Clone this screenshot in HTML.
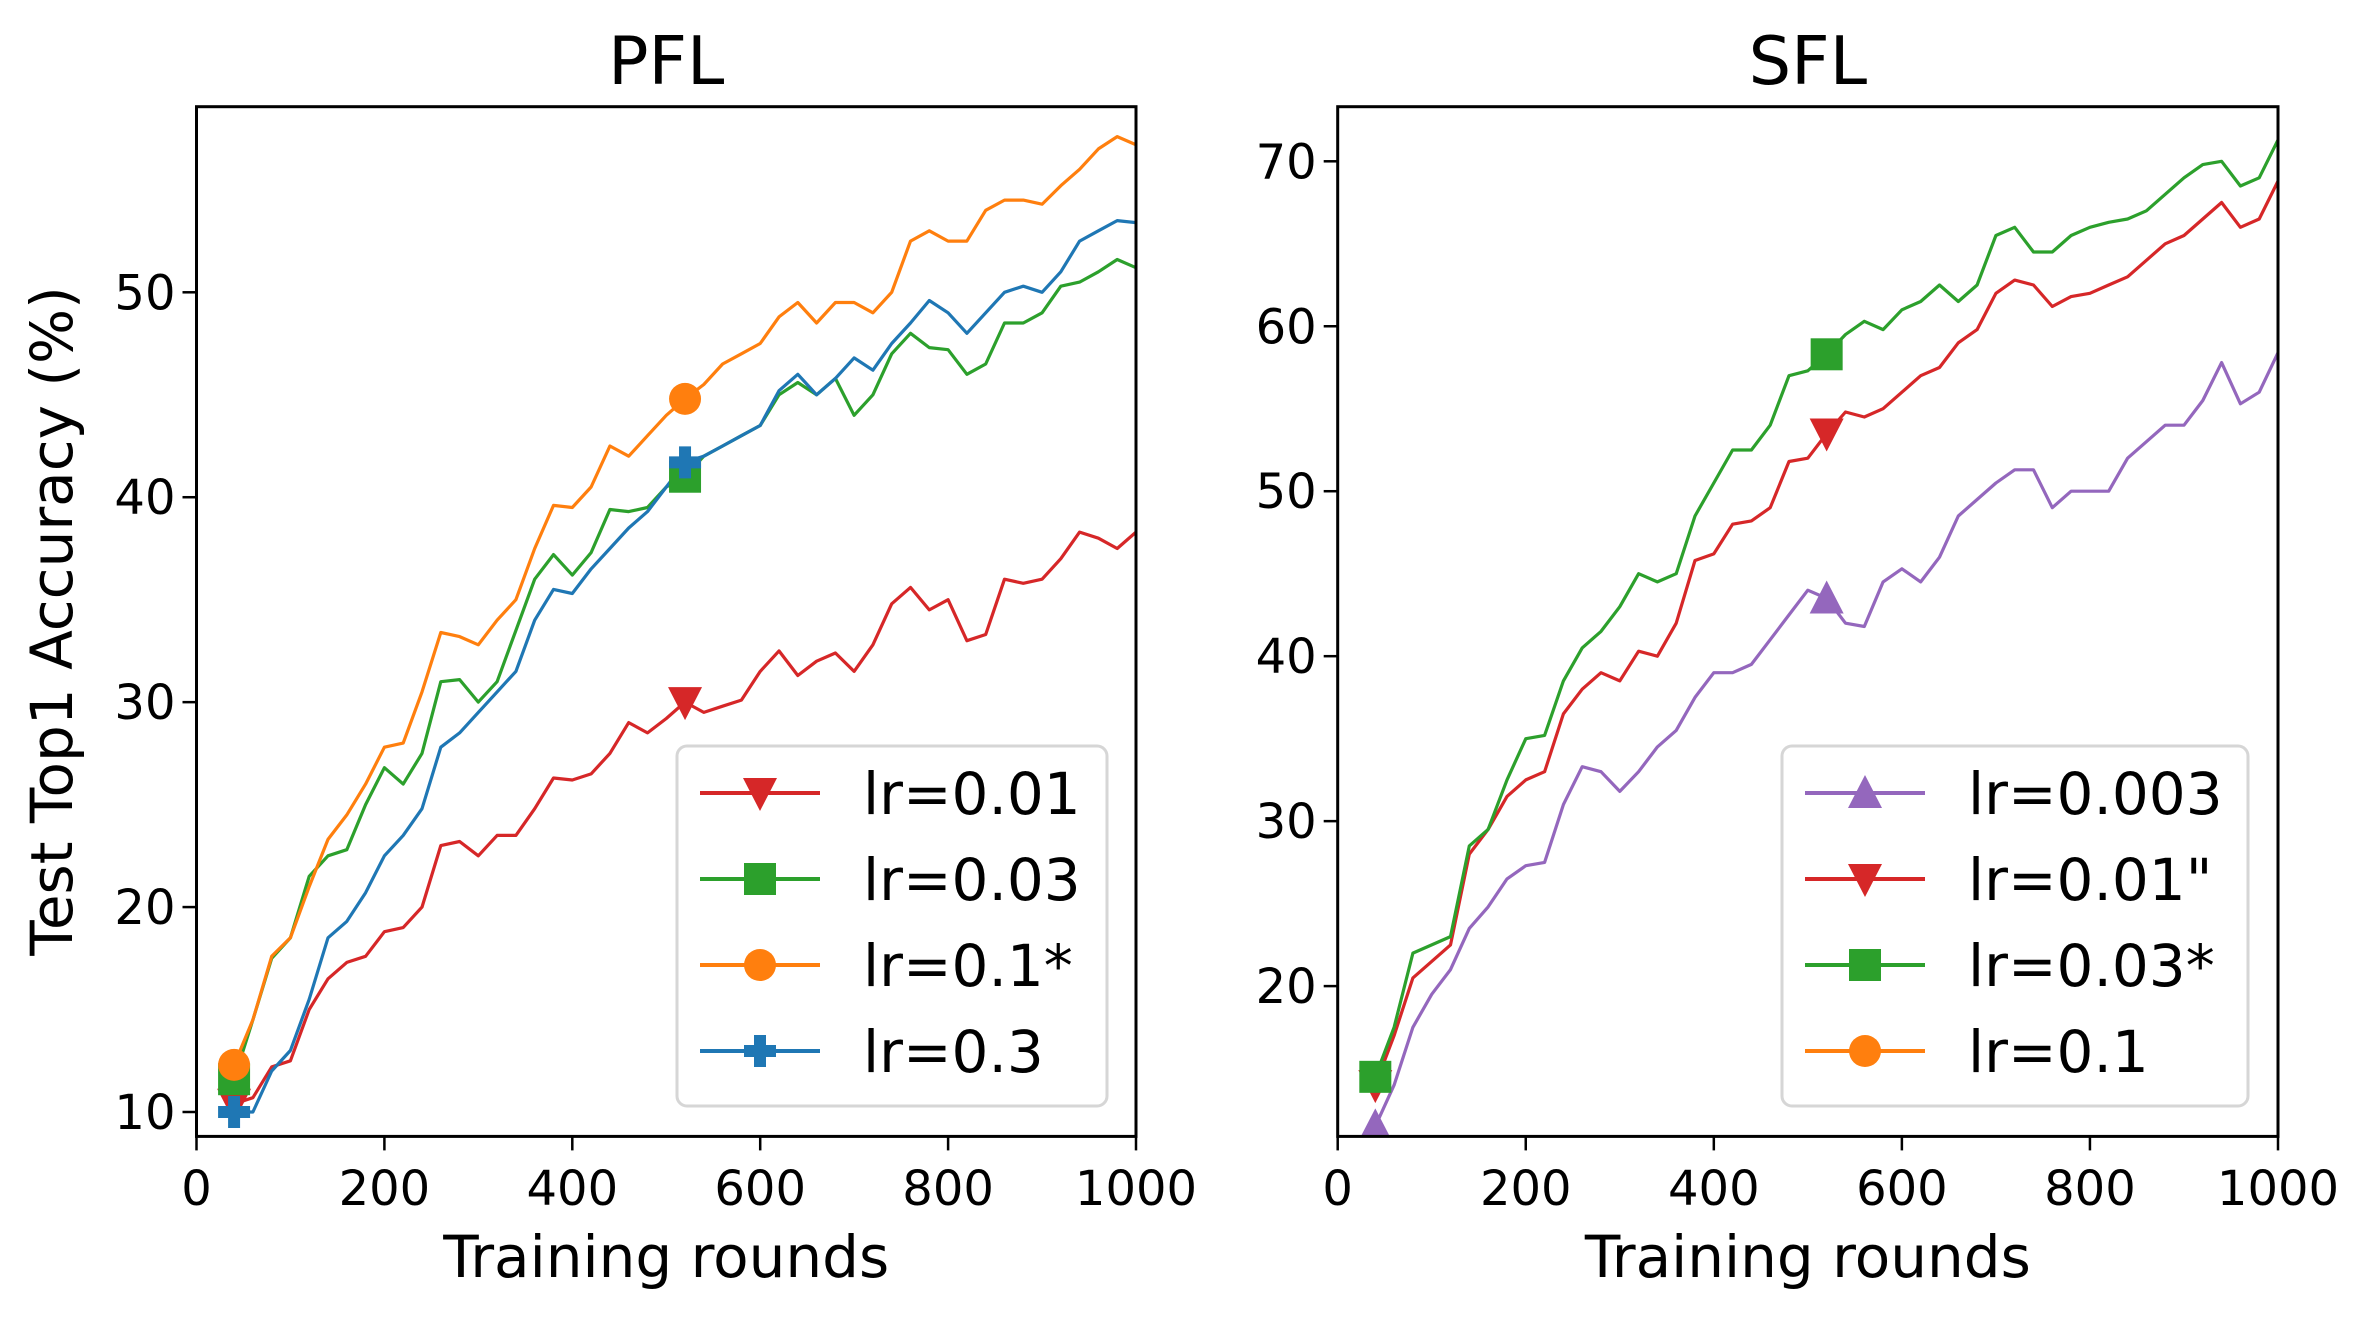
<!DOCTYPE html>
<html><head><meta charset="utf-8"><style>
html,body{margin:0;padding:0;background:#fff;}
svg{display:block;font-family:"DejaVu Sans","Liberation Sans",sans-serif;}
</style></head><body>
<svg id="chart" width="2370" height="1317" viewBox="0 0 2370 1317" xmlns="http://www.w3.org/2000/svg"></svg>
<script>
const rounds = [40,60,80,100,120,140,160,180,200,220,240,260,280,300,320,340,360,380,400,420,440,460,480,500,520,540,560,580,600,620,640,660,680,700,720,740,760,780,800,820,840,860,880,900,920,940,960,980,1000];
const xTicks = [0,200,400,600,800,1000];
// PFL
const pflLr001 = [10.4,10.7,12.2,12.5,15,16.5,17.3,17.6,18.8,19,20,23,23.2,22.5,23.5,23.5,24.8,26.3,26.2,26.5,27.5,29,28.5,29.2,30,29.5,29.8,30.1,31.5,32.5,31.3,32,32.4,31.5,32.8,34.8,35.6,34.5,35,33,33.3,36,35.8,36,37,38.3,38,37.5,38.3];
const pflLr003 = [11.6,14.5,17.5,18.5,21.5,22.5,22.8,25,26.8,26,27.5,31,31.1,30,31,33.5,36,37.2,36.2,37.3,39.4,39.3,39.5,40.5,41,42,42.5,43,43.5,45,45.6,45,45.8,44,45,47,48,47.3,47.2,46,46.5,48.5,48.5,49,50.3,50.5,51,51.6,51.2];
const pflLr01 = [12.3,14.5,17.6,18.5,21,23.3,24.5,26,27.8,28,30.5,33.4,33.2,32.8,34,35,37.5,39.6,39.5,40.5,42.5,42,43,44,44.8,45.5,46.5,47,47.5,48.8,49.5,48.5,49.5,49.5,49,50,52.5,53,52.5,52.5,54,54.5,54.5,54.3,55.2,56,57,57.6,57.2];
const pflLr03 = [10,10,12,13,15.5,18.5,19.3,20.7,22.5,23.5,24.8,27.8,28.5,29.5,30.5,31.5,34,35.5,35.3,36.5,37.5,38.5,39.3,40.5,41.7,42,42.5,43,43.5,45.2,46,45,45.8,46.8,46.2,47.5,48.5,49.6,49,48,49,50,50.3,50,51,52.5,53,53.5,53.4];
const pflYTicks = [10,20,30,40,50];
// SFL
const sflLr0003 = [11.5,14,17.5,19.5,21,23.5,24.8,26.5,27.3,27.5,31,33.3,33,31.8,33,34.5,35.5,37.5,39,39,39.5,41,42.5,44,43.5,42,41.8,44.5,45.3,44.5,46,48.5,49.5,50.5,51.3,51.3,49,50,50,50,52,53,54,54,55.5,57.8,55.3,56,58.4];
const sflLr001 = [14,17,20.5,21.5,22.5,28,29.5,31.5,32.5,33,36.5,38,39,38.5,40.3,40,42,45.8,46.2,48,48.2,49,51.8,52,53.5,54.8,54.5,55,56,57,57.5,59,59.8,62,62.8,62.5,61.2,61.8,62,62.5,63,64,65,65.5,66.5,67.5,66,66.5,68.8];
const sflLr003 = [14.5,17.5,22,22.5,23,28.5,29.5,32.5,35,35.2,38.5,40.5,41.5,43,45,44.5,45,48.5,50.5,52.5,52.5,54,57,57.3,58.3,59.5,60.3,59.8,61,61.5,62.5,61.5,62.5,65.5,66,64.5,64.5,65.5,66,66.3,66.5,67,68,69,69.8,70,68.5,69,71.3];
const sflYTicks = [20,30,40,50,60,70];

const NS = "http://www.w3.org/2000/svg";
const svg = document.getElementById('chart');
function mk(tag, attrs, parent){const e=document.createElementNS(NS,tag);for(const k in attrs)e.setAttribute(k,attrs[k]);(parent||svg).appendChild(e);return e;}

function marker(g, type, cx, cy, color){
  let e;
  if(type==='v') e=mk('polygon',{points:`${cx-17},${cy-15} ${cx+17},${cy-15} ${cx},${cy+18}`,fill:color},g);
  else if(type==='^') e=mk('polygon',{points:`${cx-17},${cy+15} ${cx+17},${cy+15} ${cx},${cy-18}`,fill:color},g);
  else if(type==='s') e=mk('rect',{x:cx-16,y:cy-16,width:32,height:32,fill:color},g);
  else if(type==='o') e=mk('circle',{cx:cx,cy:cy,r:16,fill:color},g);
  else e=mk('path',{d:`M${cx-6},${cy-16}h12v10h10v12h-10v10h-12v-10h-10v-12h10z`,fill:color},g);
  
  
  return e;
}

function panel(cfg){
  const L=cfg.x0,R=cfg.x1,T=106.7,B=1136.4;
  const sx=v=>L+(v-0)/1000*(R-L);
  const sy=v=>cfg.py0+(v-cfg.v0)*(cfg.py1-cfg.py0)/(cfg.v1-cfg.v0);
  const g=mk('g',{});
  
  
  const clipId='clip-'+cfg.name;
  const cp=mk('clipPath',{id:clipId},g);
  mk('rect',{x:L,y:T,width:R-L,height:B-T},cp);
  const lines=mk('g',{'clip-path':`url(#${clipId})`},g);
  cfg.series.forEach(s=>{
    const pts=rounds.map((r,i)=>sx(r).toFixed(1)+','+sy(s.data[i]).toFixed(1)).join(' ');
    const pl=mk('polyline',{points:pts,fill:'none',stroke:s.color,'stroke-width':3.2,'stroke-linejoin':'round'},lines);
    
    
  });
  cfg.series.forEach(s=>{
    [0,24].forEach(i=>marker(lines,s.m,sx(rounds[i]),sy(s.data[i]),s.color));
  });
  const frame=mk('rect',{x:L,y:T,width:R-L,height:B-T,fill:'none',stroke:'#000','stroke-width':3},g);
  
  
  xTicks.forEach(t=>{
    const x=sx(t);
    mk('line',{x1:x,y1:B,x2:x,y2:B+14,stroke:'#000','stroke-width':2.5},g);
    const tx=mk('text',{x:x,y:1205,'font-size':48,'text-anchor':'middle',fill:'#000'},g);
    tx.textContent=t;
    
    
  });
  cfg.yTicks.forEach(t=>{
    const y=sy(t);
    mk('line',{x1:L-14,y1:y,x2:L,y2:y,stroke:'#000','stroke-width':2.5},g);
    const tx=mk('text',{x:L-21,y:y+17,'font-size':48,'text-anchor':'end',fill:'#000'},g);
    tx.textContent=t;
    
    
  });
  const ttl=mk('text',{x:(L+R)/2,y:84,'font-size':67,'text-anchor':'middle',fill:'#000'},g);
  ttl.textContent=cfg.title;
  
  
  const xl=mk('text',{x:(L+R)/2,y:1277,'font-size':58,'text-anchor':'middle',fill:'#000'},g);
  xl.textContent='Training rounds';
  
  
  // legend
  const lg=mk('g',{},g);
  
  
  mk('rect',{x:cfg.lx,y:746,width:cfg.lw,height:360,rx:10,fill:'#fff','fill-opacity':0.8,stroke:'#d6d6d6','stroke-width':3},lg);
  const rows=[793,879,965,1051];
  cfg.legend.forEach((e,i)=>{
    const y=rows[i];
    const eg=mk('g',{},lg);
    
    
    mk('line',{x1:cfg.lx+23,y1:y,x2:cfg.lx+143,y2:y,stroke:e.color,'stroke-width':4},eg);
    marker(eg,e.m,cfg.lx+83,y,e.color);
    const tx=mk('text',{x:cfg.lx+186,y:y+21,'font-size':58,fill:'#000'},eg);
    tx.textContent=e.label;
  });
}

panel({name:'pfl',title:'PFL',x0:196.5,x1:1136,v0:10,v1:50,py0:1112,py1:292.3,yTicks:pflYTicks,lx:677,lw:430,
  series:[
    {label:'lr=0.01',data:pflLr001,color:'#d62728',m:'v'},
    {label:'lr=0.03',data:pflLr003,color:'#2ca02c',m:'s'},
    {label:'lr=0.3',data:pflLr03,color:'#1f77b4',m:'P'},
    {label:'lr=0.1*',data:pflLr01,color:'#ff7f0e',m:'o'}],
  legend:[
    {label:'lr=0.01',color:'#d62728',m:'v'},
    {label:'lr=0.03',color:'#2ca02c',m:'s'},
    {label:'lr=0.1*',color:'#ff7f0e',m:'o'},
    {label:'lr=0.3',color:'#1f77b4',m:'P'}]});

panel({name:'sfl',title:'SFL',x0:1337.7,x1:2278,v0:20,v1:70,py0:986.1,py1:161.3,yTicks:sflYTicks,lx:1782,lw:466,
  series:[
    {label:'lr=0.003',data:sflLr0003,color:'#9467bd',m:'^'},
    {label:'lr=0.01',data:sflLr001,color:'#d62728',m:'v'},
    {label:'lr=0.03*',data:sflLr003,color:'#2ca02c',m:'s'}],
  legend:[
    {label:'lr=0.003',color:'#9467bd',m:'^'},
    {label:'lr=0.01"',color:'#d62728',m:'v'},
    {label:'lr=0.03*',color:'#2ca02c',m:'s'},
    {label:'lr=0.1',color:'#ff7f0e',m:'o'}]});

const yl=mk('text',{x:0,y:0,'font-size':58,'text-anchor':'middle',fill:'#000',transform:'translate(72,621) rotate(-90)'});
yl.textContent='Test Top1 Accuracy (%)';


</script>
</body></html>
